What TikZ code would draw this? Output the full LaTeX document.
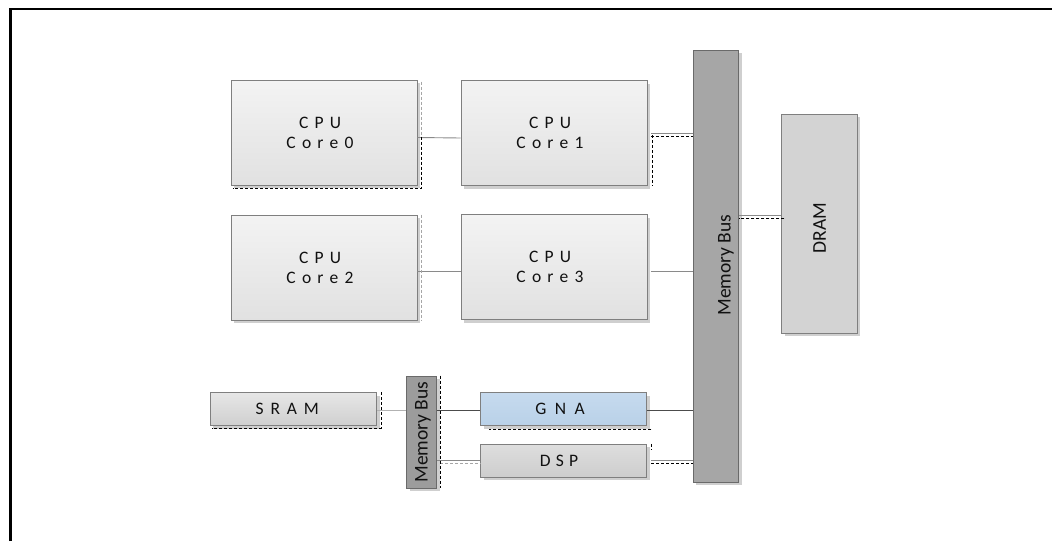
\documentclass[tikz,border=0pt]{standalone}
\usepackage{fontspec}
\setmainfont{Carlito}
\usetikzlibrary{shadows}
\definecolor{coretop}{HTML}{F3F3F3}
\definecolor{corebot}{HTML}{E1E1E1}
\definecolor{boxline}{HTML}{7F7F7F}
\definecolor{shadowc}{HTML}{CFCFCF}
\definecolor{busfill}{HTML}{A6A6A6}
\definecolor{busline}{HTML}{6A6A6A}
\definecolor{dramfill}{HTML}{D3D3D3}
\definecolor{sramtop}{HTML}{E6E6E6}
\definecolor{srambot}{HTML}{CFCFCF}
\definecolor{gnatop}{HTML}{C6DAEE}
\definecolor{gnabot}{HTML}{B9D1E8}
\definecolor{dsptop}{HTML}{DEDEDE}
\definecolor{dspbot}{HTML}{CDCDCD}
\definecolor{sbusfill}{HTML}{9C9C9C}
\definecolor{wire}{HTML}{8A8A8A}
\definecolor{txt}{HTML}{111111}
\newcommand{\tk}[1]{\kern#1\relax}
\newcommand{\cg}{\tk{6.2pt}}
\tikzset{
  box/.style={draw=boxline, line width=0.9pt, inner sep=0pt,
    drop shadow={shadow xshift=3pt, shadow yshift=-3pt, fill=shadowc, opacity=1}},
  corebox/.style={box, top color=coretop, bottom color=corebot,
    minimum width=186pt, minimum height=105pt, align=center, text=txt,
    font=\fontsize{17.5}{20}\selectfont},
  flatbox/.style={box, minimum width=166pt, minimum height=33pt, text=txt,
    font=\fontsize{17.5}{20}\selectfont},
  busbox/.style={box, draw=busline},
  vtext/.style={rotate=90, inner sep=0pt, text=txt, font=\fontsize{19.5}{22}\selectfont},
  wireline/.style={draw=wire, line width=0.9pt},
  artdash/.style={draw=black, line width=0.8pt, dash pattern=on 3pt off 2pt},
  artdashl/.style={draw=gray!70, line width=0.8pt, dash pattern=on 3pt off 2pt},
}
\begin{document}
\begin{tikzpicture}[x=1pt,y=-1pt]
\useasboundingbox (0,0) rectangle (1052,541);
% frame
\draw[line width=2.2pt] (10.5,541) -- (10.5,9) -- (1052,9);

% boxes
\node[corebox] (core0) at (324,132.5) {C\cg P\cg U\tk{8pt}\\C\cg o\cg r\cg e\cg 0\tk{8pt}};
\node[corebox] (core1) at (554,133) {C\cg P\cg U\tk{8pt}\\C\cg o\cg r\cg e\cg 1\tk{8pt}};
\node[corebox] (core2) at (324,267.5) {C\cg P\cg U\tk{8pt}\\C\cg o\cg r\cg e\cg 2\tk{8pt}};
\node[corebox] (core3) at (554,267) {C\cg P\cg U\tk{8pt}\\C\cg o\cg r\cg e\cg 3\tk{8pt}};

\node[busbox, fill=busfill, minimum width=45.5pt, minimum height=432pt] (bus) at (716,266) {};
\node[vtext] (bustext) at (726,265) {Memory Bus};

\node[box, fill=dramfill, minimum width=75.5pt, minimum height=219pt] (dram) at (819.5,223.7) {};
\node[vtext] (dramtext) at (819.5,228) {DRAM};

\node[flatbox, top color=sramtop, bottom color=srambot, minimum width=166.5pt] (sram) at (293.3,409.3) {S\tk{6.9pt}R\tk{6.9pt}A\tk{6.9pt}M\tk{12pt}};
\node[busbox, fill=sbusfill, minimum width=30pt, minimum height=112pt] (sbus) at (421.7,432) {};
\node[vtext] (sbustext) at (423,432) {Memory Bus};

\node[flatbox, top color=gnatop, bottom color=gnabot] (gna) at (563.8,409.3) {G\tk{8.4pt}N\tk{8.4pt}A\tk{7.6pt}};
\node[flatbox, top color=dsptop, bottom color=dspbot] (dsp) at (563.8,460.7) {D\tk{5.2pt}S\tk{5.2pt}P\tk{9.6pt}};

% connectors
\draw[wireline] ([yshift=-5pt]core0.east) -- ([yshift=-5pt]core1.west);
\draw[wireline] ([xshift=4pt]core1.east) -- (core1.east -| bus.west);
\draw[artdash] ([xshift=4pt,yshift=-3pt]core1.east) -- ([yshift=-3pt]core1.east -| bus.west);
\draw[wireline] ([yshift=-3.5pt]core2.east) -- ([yshift=-4pt]core3.west);
\draw[wireline] ([xshift=4pt,yshift=-4pt]core3.east) -- ([yshift=-4pt]core3.east -| bus.west);
\draw[wireline] ([yshift=8.7pt]dram.west) -- ([yshift=8.7pt]dram.west -| bus.east);
\draw[artdash] ([xshift=3pt,yshift=5.4pt]dram.west) -- ([yshift=5.4pt]dram.west -| bus.east);
\draw[wireline, draw=gray!60] ([yshift=-1.2pt]sram.east) -- ([yshift=-1.2pt]sram.east -| sbus.west);
\draw[wireline, draw=gray!60!black] ([yshift=-0.7pt]gna.west -| sbus.east) -- ([yshift=-0.7pt]gna.west);
\draw[wireline, draw=gray!60!black] ([yshift=-0.7pt]gna.east) -- ([yshift=-0.7pt]gna.east -| bus.west);
\draw[wireline] (dsp.west -| sbus.east) -- (dsp.west);
\draw[artdashl] ([xshift=3pt,yshift=-2.6pt]dsp.west -| sbus.east) -- ([yshift=-2.6pt]dsp.west);
\draw[wireline] ([xshift=4pt]dsp.east) -- (dsp.east -| bus.west);
\draw[artdash] ([xshift=4pt,yshift=-2.6pt]dsp.east) -- ([yshift=-2.6pt]dsp.east -| bus.west);

% dashed outline artefacts
\draw[artdash] ([xshift=4pt,yshift=-4pt]core0.east) -- ([xshift=4pt,yshift=-2.5pt]core0.south east) -- ([xshift=2pt,yshift=-2.5pt]core0.south west);
\draw[artdashl] ([xshift=4pt,yshift=-2pt]core0.north east) -- ([xshift=4pt,yshift=-4pt]core0.east);
\draw[artdash] ([xshift=4.5pt,yshift=-2pt]core1.east) -- ([xshift=4.5pt]core1.south east);
\draw[artdashl] ([xshift=4pt]core2.north east) -- ([xshift=4pt]core2.south east);
\draw[artdash] ([xshift=4pt]sram.north east) -- ([xshift=4pt,yshift=-2.5pt]sram.south east) -- ([xshift=2pt,yshift=-2.5pt]sram.south west);
\draw[artdash] ([xshift=3.5pt]sbus.north east) -- ([xshift=3.5pt]sbus.south east);
\draw[artdash] ([xshift=4pt,yshift=-3pt]gna.south east) -- ([xshift=9pt,yshift=-3pt]gna.south west);
\draw[artdash] ([xshift=4pt]dsp.north east) -- ([xshift=4pt,yshift=-6pt]dsp.north east);
\end{tikzpicture}
\end{document}
